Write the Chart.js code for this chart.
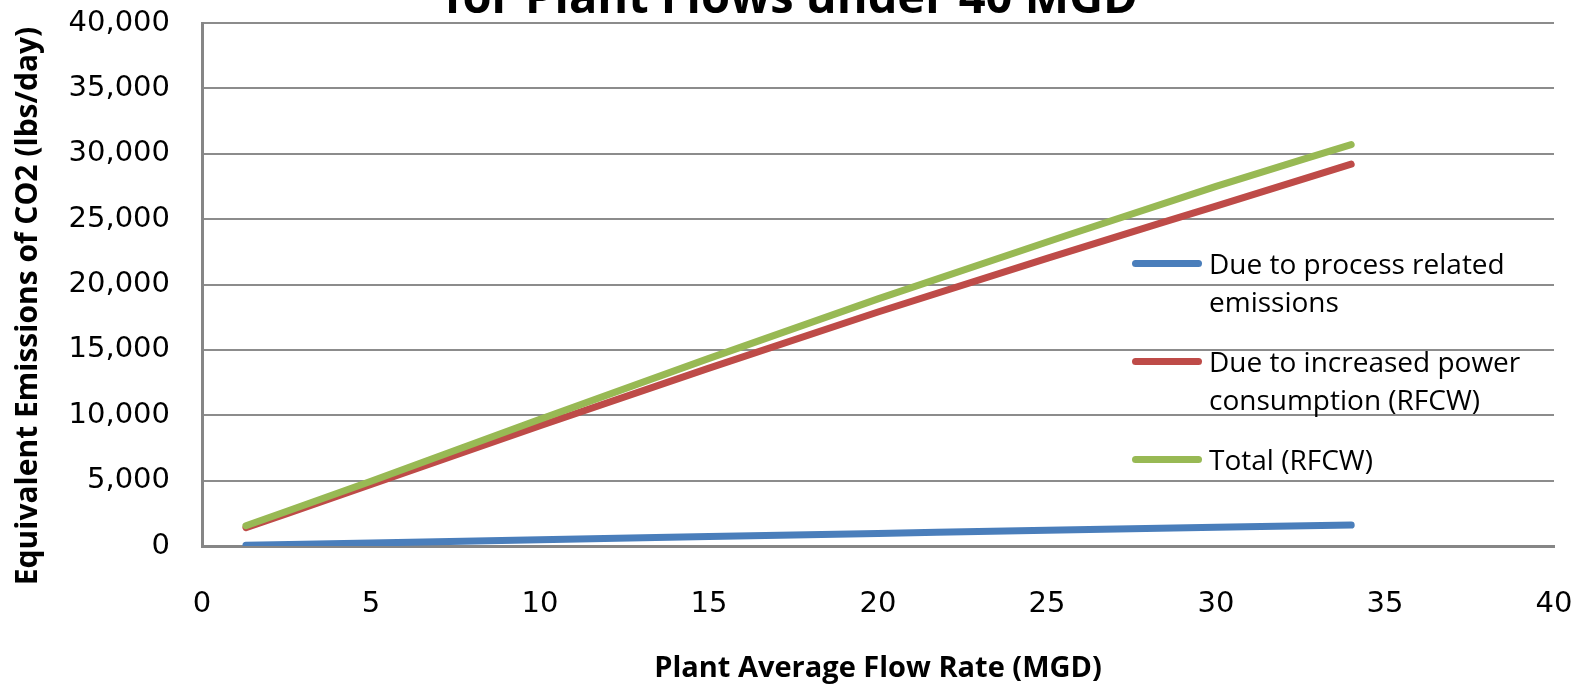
<!DOCTYPE html>
<html>
<head>
<meta charset="utf-8">
<script src="https://cdn.jsdelivr.net/npm/chart.js@4.4.1/dist/chart.umd.min.js"></script>
<style>
  html, body { margin: 0; padding: 0; background: #fff; }
  #wrap { position: relative; width: 1585px; height: 686px; }
  #legend { position: absolute; left: 1132px; top: 244px; font-family: "Open Sans", sans-serif; font-size: 28px; color: #000; }
  .item { display: flex; align-items: flex-start; margin-bottom: 22px; }
  .swatch { width: 70px; height: 7px; border-radius: 4px; margin-top: 16px; margin-right: 7px; flex: none; }
  .text { line-height: 38px; white-space: nowrap; }
</style>
</head>
<body>
<div id="wrap">
  <canvas id="co2Chart" width="1585" height="686"></canvas>
  <div id="legend"></div>
</div>
<script>
// Chart data
const titleText = 'for Plant Flows under 40 MGD';
const yTitleText = 'Equivalent Emissions of CO2 (lbs/day)';
const flowRate = [1.3, 5, 10, 15, 20, 25, 30, 34];
const processEmissions = [50, 230, 480, 720, 960, 1200, 1430, 1600];
const powerEmissions = [1400, 4700, 9200, 13600, 17900, 22000, 26000, 29200];
const totalEmissions = [1550, 4950, 9700, 14350, 18900, 23250, 27500, 30700];
const seriesLabels = [
  ['Due to process related', 'emissions'],
  ['Due to increased power', 'consumption (RFCW)'],
  ['Total (RFCW)']
];
const seriesColors = ['#4a7ebb', '#be4b48', '#98b954'];
const yTicks = [0, 5000, 10000, 15000, 20000, 25000, 30000, 35000, 40000];
const xTicks = [0, 5, 10, 15, 20, 25, 30, 35, 40];

const tickFont = '"DejaVu Sans", Verdana, sans-serif';

function toPoints(values) {
  return flowRate.map((x, i) => ({ x: x, y: values[i] }));
}

// Cut-off title line at the top and the rotated y title
const extraText = {
  id: 'extraText',
  afterDraw(chart) {
    const ctx = chart.ctx;
    ctx.save();
    ctx.fillStyle = '#000';
    ctx.textAlign = 'center';
    ctx.font = 'bold 47px "Open Sans"';
    ctx.textBaseline = 'alphabetic';
    ctx.fillText(titleText, 791, 13);
    ctx.translate(28, 306);
    ctx.rotate(-Math.PI / 2);
    ctx.font = 'bold 30px "Open Sans"';
    ctx.textBaseline = 'middle';
    ctx.fillText(yTitleText, 0, 0);
    ctx.restore();
  }
};

const allSeries = [processEmissions, powerEmissions, totalEmissions];
const ctx = document.getElementById('co2Chart').getContext('2d');
const co2Chart = new Chart(ctx, {
  type: 'line',
  data: {
    datasets: allSeries.map((vals, i) => ({
      label: seriesLabels[i].join(' '),
      data: toPoints(vals),
      borderColor: seriesColors[i],
      backgroundColor: seriesColors[i],
      borderWidth: 7,
      borderCapStyle: 'round',
      pointRadius: 0,
      cubicInterpolationMode: 'monotone',
      fill: false,
      order: 2 - i
    }))
  },
  options: {
    responsive: false,
    animation: false,
    devicePixelRatio: 1,
    layout: { padding: { top: 23, right: 31, left: 0, bottom: 0 } },
    plugins: {
      legend: { display: false },
      tooltip: { enabled: false }
    },
    scales: {
      x: {
        type: 'linear',
        min: 0,
        max: 40,
        afterFit(scale) { scale.height = 140; },
        afterBuildTicks(scale) { scale.ticks = xTicks.map(v => ({ value: v })); },
        // invisible tick marks give the label gap without extra layout padding
        grid: { display: false, drawTicks: true, tickLength: 41, tickColor: 'transparent' },
        border: { display: true, color: '#868686', width: 3 },
        ticks: {
          padding: 0,
          color: '#000',
          font: { family: tickFont, size: 29 }
        },
        title: {
          display: true,
          text: 'Plant Average Flow Rate (MGD)',
          color: '#000',
          font: { family: 'Open Sans', size: 29, weight: 'bold' },
          padding: { top: 0, bottom: 0 }
        }
      },
      y: {
        min: 0,
        max: 40000,
        afterFit(scale) { scale.width = 202; },
        afterBuildTicks(scale) { scale.ticks = yTicks.map(v => ({ value: v })); },
        grid: { color: '#8c8c8c', lineWidth: 2, drawTicks: true, tickLength: 32, tickColor: 'transparent' },
        border: { display: true, color: '#868686', width: 3 },
        ticks: {
          padding: 0,
          color: '#000',
          font: { family: tickFont, size: 29 },
          callback: v => v.toLocaleString('en-US')
        }
      }
    }
  },
  plugins: [extraText]
});

// HTML legend with the wrapped labels
const legendBox = document.getElementById('legend');
seriesLabels.forEach((lines, i) => {
  const item = document.createElement('div');
  item.className = 'item';
  const sw = document.createElement('span');
  sw.className = 'swatch';
  sw.style.background = seriesColors[i];
  const txt = document.createElement('div');
  txt.className = 'text';
  txt.innerHTML = lines.join('<br>');
  item.appendChild(sw);
  item.appendChild(txt);
  legendBox.appendChild(item);
});
</script>
</body>
</html>
